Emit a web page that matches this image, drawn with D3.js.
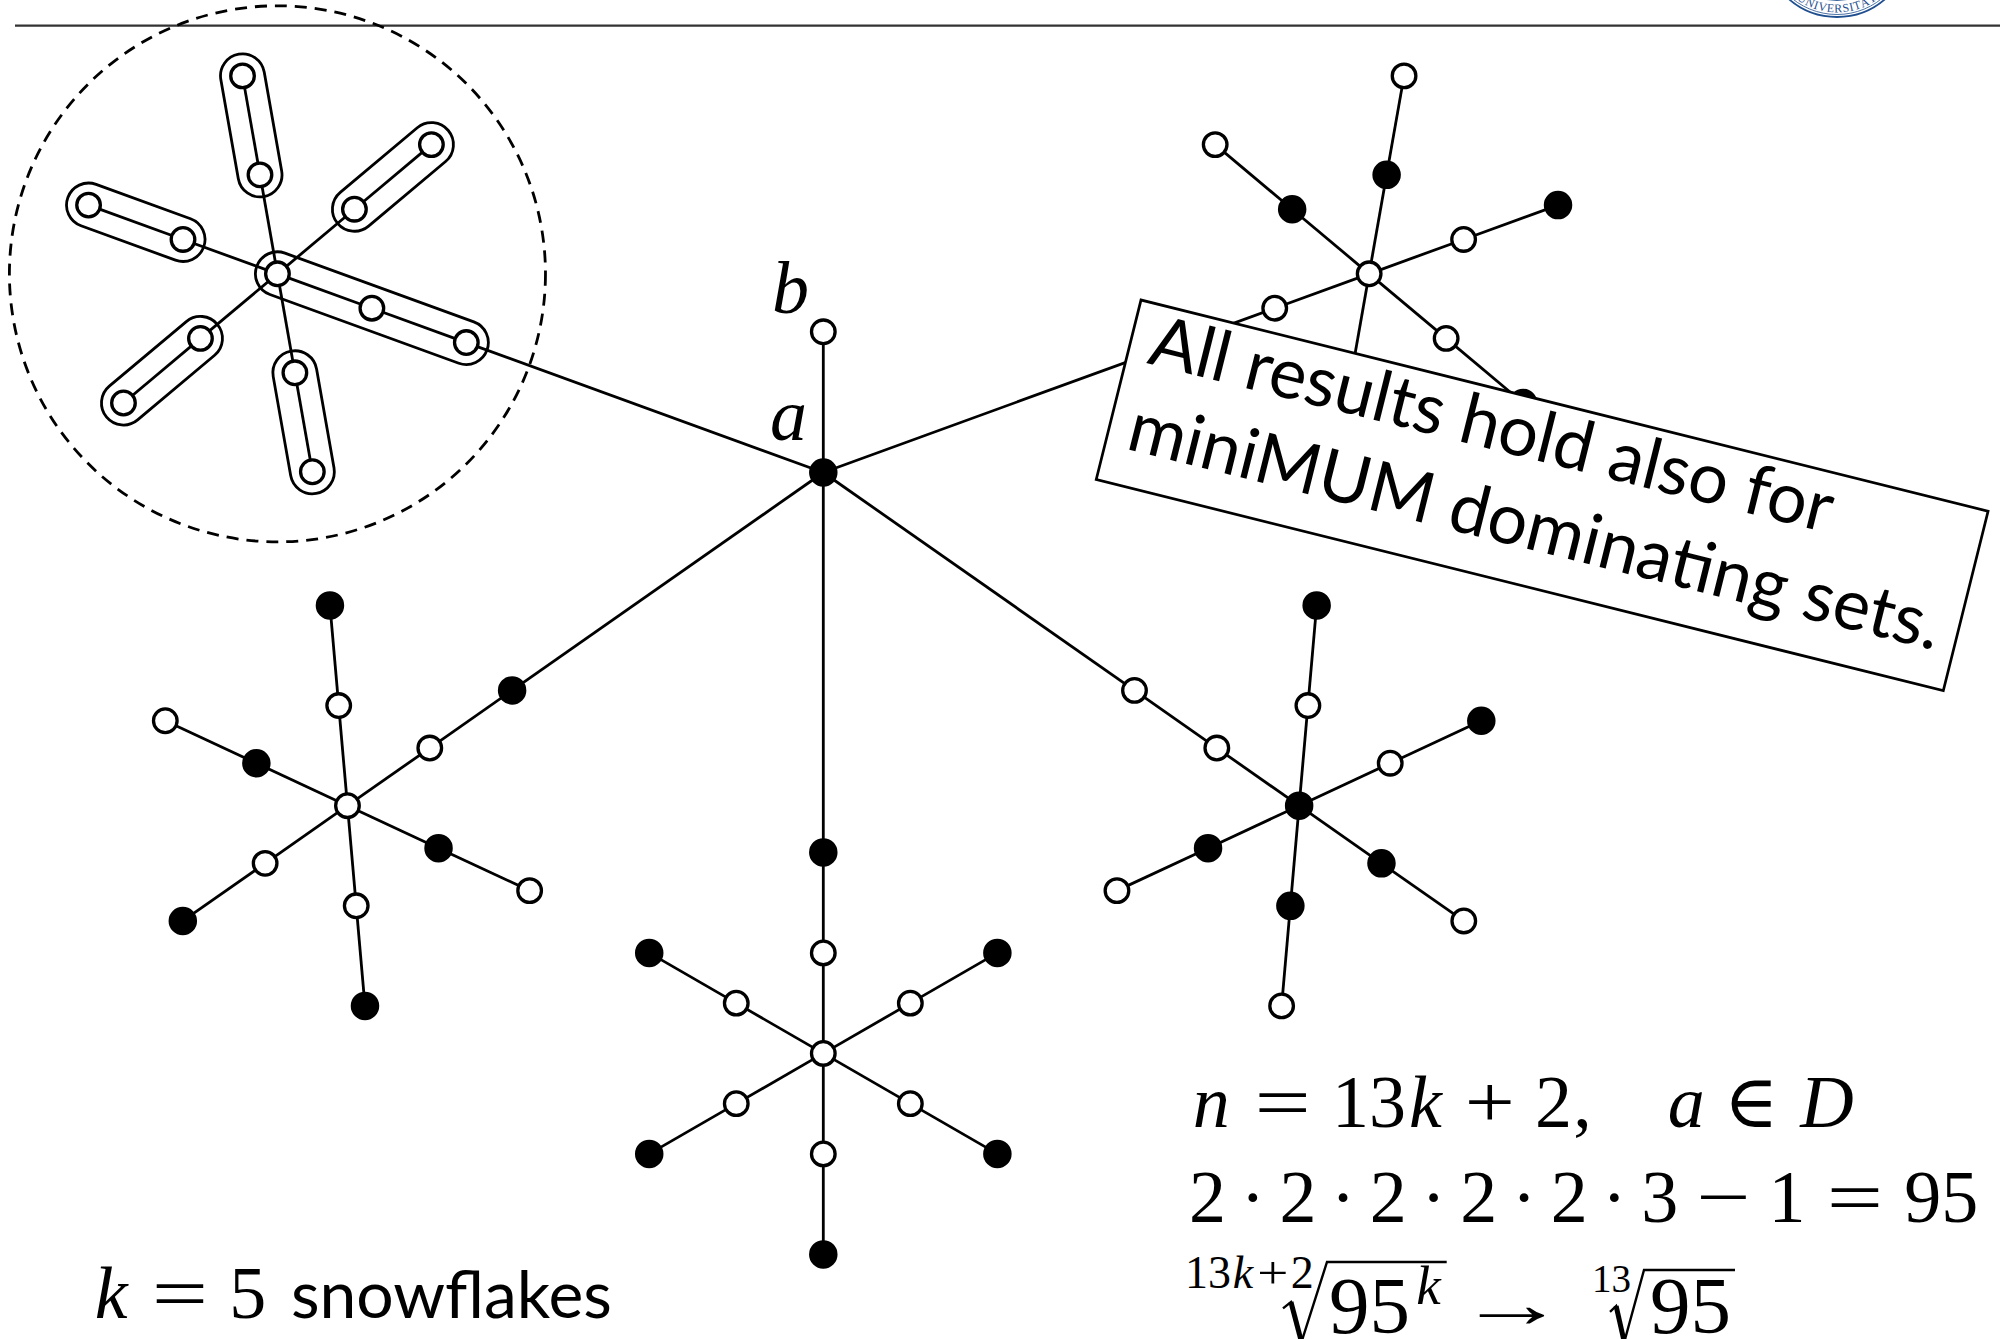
<!DOCTYPE html>
<html><head><meta charset="utf-8">
<script src="https://cdn.jsdelivr.net/npm/d3@7"></script>
<style>html,body{margin:0;padding:0;background:#fff;overflow:hidden}svg{display:block}</style>
</head><body>
<svg id="c" width="2000" height="1339"></svg>
<script>
// ---------------- data ----------------
// graph coordinates: vertex a at origin, unit = one arm step, y pointing up
const bAngle = 90, bDist = 1.4;
const snowflakeNames  = ["topLeft", "topRight", "bottomLeft", "bottom", "bottomRight"];
const snowflakeAngles = [160, 20, 215, 270, 325];     // direction of each snowflake centre seen from a (deg)
const snowflakeDist   = 5.78;
const armOffsets      = [0, 60, 120, 180, 240, 300];  // arm 0 points back towards a
const armSteps        = [1, 2];                       // inner / outer vertex of an arm
const centerInD       = [0, 0, 0, 0, 1];
// per snowflake, per arm (counter-clockwise from arm 0): [inner, outer], 1 = vertex in D
const armInD = [
  [[0,0],[0,0],[0,0],[0,0],[0,0],[0,0]],
  [[0,1],[1,0],[0,1],[0,1],[1,0],[1,0]],
  [[0,1],[0,1],[1,0],[0,1],[0,1],[1,0]],
  [[0,1],[0,1],[0,1],[0,1],[0,1],[0,1]],
  [[0,0],[1,0],[1,0],[1,0],[0,1],[0,1]]
];
const highlightedSnowflake = 0;
const dashedRadius = 2.667;
const hullRadius = 0.219;

const boxLines = ["All results hold also for", "miniMUM dominating sets."];
// math atoms: [glyph, TeX width (em), italic, horizontal stretch] or [space (em)]
const eq1 = [["n",.6,1],[.278],["=",.778,0,1.35],[.278],["1",.5],["3",.5],["k",.521,1],[.222],["+",.778,0,1.2],[.222],["2",.5],[",",.278],[1],["a",.529,1],[.278],["∈",.667],[.278],["D",.828,1]];
const eq2 = [["2",.5],[.222],["·",.278],[.222],["2",.5],[.222],["·",.278],[.222],["2",.5],[.222],["·",.278],[.222],["2",.5],[.222],["·",.278],[.222],["2",.5],[.222],["·",.278],[.222],["3",.5],[.222],["−",.778,0,1.3],[.222],["1",.5],[.278],["=",.778,0,1.35],[.278],["9",.5],["5",.5]];
const rootIndex1 = [["1",.5],["3",.5],["k",.521,1],["+",.778,0,1.2],["2",.5]];
const radicand1 = [["9",.5],["5",.5]];
const radicandSup = [["k",.521,1]];
const arrowAtom = [["→",1,0,1.6]];
const rootIndex2 = [["1",.5],["3",.5]];
const radicand2 = [["9",.5],["5",.5]];
const kLabel = [["k",.521,1],[.278],["=",.778,0,1.35],[.278],["5",.5],[.333]];
const kWord = "snowflakes";

// ---------------- drawing ----------------
const svg = d3.select("#c");
const mathFont = "'Liberation Serif','DejaVu Serif',serif";
const sansFont = "Lato,'Open Sans',sans-serif";
const unit = 100.5;
const x = d3.scaleLinear().domain([0, 1]).range([823.3, 823.3 + unit]);
const y = d3.scaleLinear().domain([0, 1]).range([472.5, 472.5 - unit]);
const rad = d => d * Math.PI / 180;
const polar = (p, ang, r) => ({x: p.x + r * Math.cos(rad(ang)), y: p.y + r * Math.sin(rad(ang))});

const nodes = [], edges = [], hulls = [];
const A = {x: 0, y: 0, inD: 1};
const B = Object.assign(polar(A, bAngle, bDist), {inD: 0});
nodes.push(A, B); edges.push([A, B]);
let hlCenter = null;
snowflakeAngles.forEach((ang, i) => {
  const c = Object.assign(polar(A, ang, snowflakeDist), {inD: centerInD[i]});
  if (i === highlightedSnowflake) hlCenter = c;
  const back = ang + 180;
  nodes.push(c);
  armOffsets.forEach((off, j) => {
    const dir = back + off;
    const inner = Object.assign(polar(c, dir, armSteps[0]), {inD: armInD[i][j][0]});
    const outer = Object.assign(polar(c, dir, armSteps[1]), {inD: armInD[i][j][1]});
    nodes.push(inner, outer);
    edges.push([c, inner], [inner, outer]);
    if (j === 0) edges.push([outer, A]);
    if (i === highlightedSnowflake) hulls.push(j === 0 ? [c, outer] : [inner, outer]);
  });
});

// header rule
svg.append("line").attr("x1", 15).attr("x2", 2000).attr("y1", 25.7).attr("y2", 25.7)
  .attr("stroke", "#333").attr("stroke-width", 2.2);

// seal (partially visible)
const blue = "#1f4f8f";
const seal = svg.append("g").attr("transform", "translate(1837,-56.5)");
seal.append("circle").attr("r", 73.5).attr("fill", "none").attr("stroke", blue).attr("stroke-width", 1.8);
seal.append("circle").attr("r", 71).attr("fill", "none").attr("stroke", blue).attr("stroke-width", 0.8);
seal.append("circle").attr("r", 57).attr("fill", "none").attr("stroke", blue).attr("stroke-width", 0.9);
svg.append("defs").append("path").attr("id", "sealArc")
  .attr("d", "M " + (1837 - 69) + " -56.5 A 69 69 0 0 0 " + (1837 + 69) + " -56.5");
svg.append("text").attr("font-family", mathFont).attr("font-size", 12).attr("fill", blue)
  .append("textPath").attr("href", "#sealArc").attr("startOffset", "50%").attr("text-anchor", "middle")
  .attr("letter-spacing", 0.6).text("UNIVERSITÄT");

// dashed circle
svg.append("circle").attr("cx", x(hlCenter.x)).attr("cy", y(hlCenter.y))
  .attr("r", x(dashedRadius) - x(0)).attr("fill", "none").attr("stroke", "#000")
  .attr("stroke-width", 2.8).attr("stroke-dasharray", "12 8");

// edges
svg.append("g").selectAll("line").data(edges).join("line")
  .attr("x1", d => x(d[0].x)).attr("y1", d => y(d[0].y))
  .attr("x2", d => x(d[1].x)).attr("y2", d => y(d[1].y))
  .attr("stroke", "#000").attr("stroke-width", 2.8);

// hulls (capsules)
const hr = x(hullRadius) - x(0);
svg.append("g").selectAll("rect").data(hulls).join("rect")
  .attr("transform", d => {
    const x1 = x(d[0].x), y1 = y(d[0].y), x2 = x(d[1].x), y2 = y(d[1].y);
    return `translate(${x1},${y1}) rotate(${Math.atan2(y2 - y1, x2 - x1) * 180 / Math.PI})`;
  })
  .attr("x", -hr).attr("y", -hr)
  .attr("width", d => Math.hypot(x(d[1].x) - x(d[0].x), y(d[1].y) - y(d[0].y)) + 2 * hr)
  .attr("height", 2 * hr).attr("rx", hr).attr("ry", hr)
  .attr("fill", "none").attr("stroke", "#000").attr("stroke-width", 2.8);

// vertices
svg.append("g").selectAll("circle").data(nodes).join("circle")
  .attr("cx", d => x(d.x)).attr("cy", d => y(d.y)).attr("r", d => d.inD ? 12.6 : 11.8)
  .attr("fill", d => d.inD ? "#000" : "#fff").attr("stroke", "#000").attr("stroke-width", 3.3);

// math helper: places every atom at its TeX advance
function mathRow(g, x0, base, atoms, size) {
  let cx = x0;
  atoms.forEach(a => {
    if (a.length === 1) { cx += a[0] * size; return; }
    g.append("text").attr("transform", `translate(${cx + a[1] * size / 2},${base}) scale(${a[3] || 1},1)`)
      .attr("text-anchor", "middle").attr("font-family", mathFont).attr("font-size", size)
      .attr("font-style", a[2] ? "italic" : "normal").text(a[0]);
    cx += a[1] * size;
  });
  return cx;
}
const M = 74;
const tg = svg.append("g").attr("fill", "#000");
tg.append("text").attr("x", 772).attr("y", 313).attr("font-family", mathFont).attr("font-style", "italic").attr("font-size", M).text("b");
tg.append("text").attr("x", 770).attr("y", 440).attr("font-family", mathFont).attr("font-style", "italic").attr("font-size", M).text("a");

// box
const box = svg.append("g").attr("transform", "translate(1141,300) rotate(14)");
box.append("rect").attr("width", 873).attr("height", 185).attr("fill", "#fff").attr("stroke", "#000").attr("stroke-width", 2.7);
function fitSize(text, target) {
  const t = svg.append("text").attr("font-family", sansFont).attr("font-size", 74).text(text);
  const s = 74 * target / t.node().getComputedTextLength();
  t.remove();
  return s;
}
const sansSize = fitSize(boxLines[1], 835);
boxLines.forEach((s, i) => box.append("text").attr("x", 20).attr("y", 60 + 88 * i)
  .attr("font-family", sansFont).attr("font-size", sansSize).text(s));

// formulas
mathRow(tg, 1189, 1127, eq1, M);
mathRow(tg, 1189, 1222, eq2, M);
// third line
const B3 = 1333, R = 81, IX = 46;
mathRow(tg, 1185, 1288, rootIndex1, IX);
let e1 = mathRow(tg, 1329, B3, radicand1, R);
e1 = mathRow(tg, e1 + 4, B3 - 0.36 * R, radicandSup, 0.68 * R);
function radical(x0, w, top, bottom, xEnd) {
  const h = bottom - top;
  const p = d3.path();
  p.moveTo(x0, top + 0.58 * h); p.lineTo(x0 + 0.18 * w, top + 0.5 * h);
  p.lineTo(x0 + 0.42 * w, bottom); p.lineTo(x0 + w, top); p.lineTo(xEnd, top);
  tg.append("path").attr("d", p.toString()).attr("fill", "none").attr("stroke", "#000")
    .attr("stroke-width", 2.4).attr("stroke-linejoin", "miter");
  tg.append("line").attr("x1", x0 + 0.18 * w).attr("y1", top + 0.5 * h).attr("x2", x0 + 0.42 * w).attr("y2", bottom)
    .attr("stroke", "#000").attr("stroke-width", 5);
}
radical(1283, 44, 1262, 1342, e1 + 4);
mathRow(tg, 1478, B3 - 6, arrowAtom, 68);
mathRow(tg, 1592, 1292, rootIndex2, IX * 0.85);
const e2 = mathRow(tg, 1650, B3, radicand2, R);
radical(1610, 34, 1270, 1342, e2 + 4);

// k = 5 snowflakes
const kEnd = mathRow(tg, 92, 1318, kLabel, M);
tg.append("text").attr("x", kEnd).attr("y", 1318).attr("font-family", sansFont)
  .attr("font-size", fitSize(kWord, 321)).text(kWord);
</script>
</body></html>
